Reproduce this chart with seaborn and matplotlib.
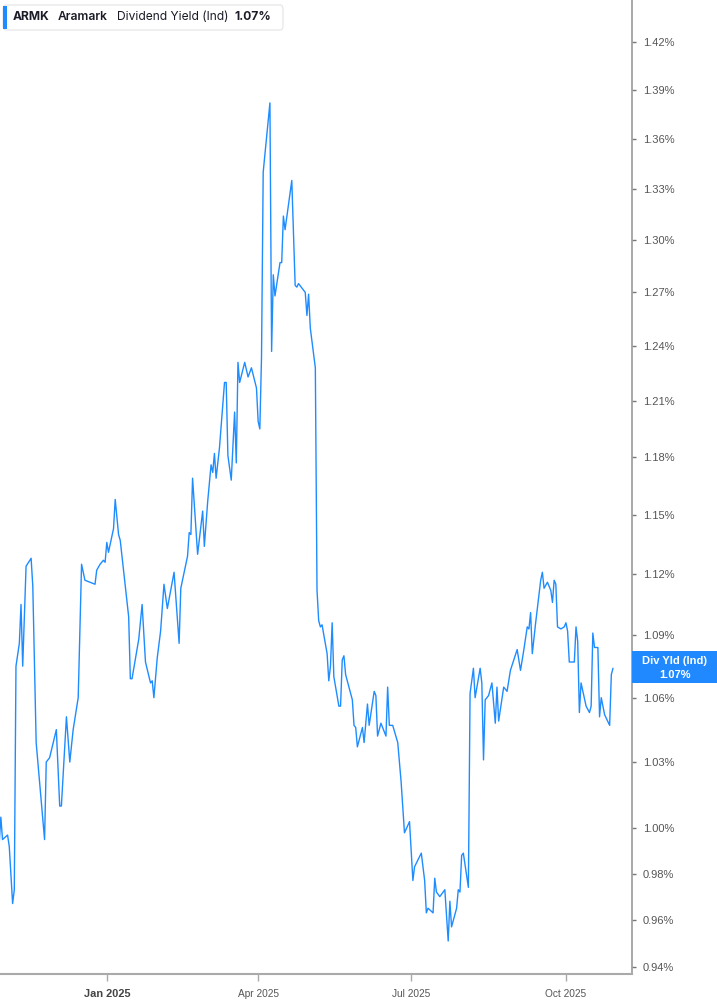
import matplotlib
matplotlib.use("Agg")
import matplotlib.pyplot as plt
import matplotlib.dates as mdates
from matplotlib.ticker import FixedLocator, NullLocator, FuncFormatter
from matplotlib.patches import FancyBboxPatch, Rectangle
import pandas as pd
import seaborn as sns

# ---------------- data ----------------
dates_2024 = ["2024-10-29", "2024-10-30", "2024-10-31", "2024-11-03", "2024-11-04",
              "2024-11-06", "2024-11-07", "2024-11-08", "2024-11-10", "2024-11-11",
              "2024-11-12", "2024-11-14", "2024-11-17", "2024-11-18", "2024-11-20",
              "2024-11-25", "2024-11-26", "2024-11-28", "2024-12-02", "2024-12-04",
              "2024-12-05", "2024-12-08", "2024-12-10", "2024-12-12", "2024-12-15",
              "2024-12-17", "2024-12-19", "2024-12-25", "2024-12-26", "2024-12-28",
              "2024-12-30", "2024-12-31"]
yield_2024 = [0.993, 1.005, 0.995, 0.997, 0.992,
              0.967, 0.973, 1.075, 1.086, 1.105,
              1.075, 1.124, 1.128, 1.114, 1.039,
              0.995, 1.030, 1.032, 1.045, 1.010,
              1.010, 1.051, 1.030, 1.045, 1.060,
              1.125, 1.117, 1.115, 1.122, 1.125,
              1.127, 1.126]

dates_2025 = [
    # Jan
    "2025-01-01", "2025-01-02", "2025-01-05", "2025-01-06", "2025-01-08", "2025-01-09",
    "2025-01-12", "2025-01-14", "2025-01-15", "2025-01-16", "2025-01-20", "2025-01-22",
    "2025-01-24", "2025-01-27", "2025-01-28", "2025-01-29", "2025-01-31",
    # Feb
    "2025-02-02", "2025-02-04", "2025-02-06", "2025-02-10", "2025-02-13", "2025-02-14",
    "2025-02-18", "2025-02-19", "2025-02-20", "2025-02-21", "2025-02-24", "2025-02-27",
    "2025-02-28",
    # Mar
    "2025-03-02", "2025-03-04", "2025-03-05", "2025-03-06", "2025-03-07", "2025-03-09",
    "2025-03-12", "2025-03-13", "2025-03-14", "2025-03-16", "2025-03-18", "2025-03-19",
    "2025-03-20", "2025-03-21", "2025-03-24", "2025-03-26", "2025-03-28", "2025-03-31",
    # Apr
    "2025-04-01", "2025-04-02", "2025-04-03", "2025-04-04", "2025-04-08", "2025-04-09",
    "2025-04-10", "2025-04-11", "2025-04-14", "2025-04-15", "2025-04-16", "2025-04-17",
    "2025-04-21", "2025-04-23", "2025-04-24", "2025-04-25", "2025-04-29", "2025-04-30",
    # May
    "2025-05-01", "2025-05-02", "2025-05-05", "2025-05-06", "2025-05-07", "2025-05-08",
    "2025-05-09", "2025-05-12", "2025-05-13", "2025-05-14", "2025-05-15", "2025-05-16",
    "2025-05-19", "2025-05-20", "2025-05-21", "2025-05-22", "2025-05-23", "2025-05-27",
    "2025-05-28", "2025-05-29", "2025-05-30",
    # Jun
    "2025-06-02", "2025-06-03", "2025-06-05", "2025-06-06", "2025-06-09", "2025-06-10",
    "2025-06-11", "2025-06-13", "2025-06-16", "2025-06-17", "2025-06-18", "2025-06-20",
    "2025-06-23", "2025-06-25", "2025-06-27", "2025-06-30",
    # Jul
    "2025-07-02", "2025-07-03", "2025-07-07", "2025-07-09", "2025-07-10", "2025-07-11",
    "2025-07-14", "2025-07-15", "2025-07-16", "2025-07-18", "2025-07-21", "2025-07-23",
    "2025-07-24", "2025-07-25", "2025-07-28", "2025-07-29", "2025-07-30", "2025-07-31",
    # Aug
    "2025-08-01", "2025-08-04", "2025-08-05", "2025-08-07", "2025-08-08", "2025-08-11",
    "2025-08-12", "2025-08-13", "2025-08-14", "2025-08-16", "2025-08-18", "2025-08-20",
    "2025-08-21", "2025-08-22", "2025-08-25", "2025-08-27", "2025-08-29",
    # Sep
    "2025-09-02", "2025-09-04", "2025-09-06", "2025-09-08", "2025-09-09", "2025-09-10",
    "2025-09-11", "2025-09-13", "2025-09-16", "2025-09-17", "2025-09-18", "2025-09-20",
    "2025-09-22", "2025-09-23", "2025-09-24", "2025-09-25", "2025-09-26", "2025-09-28",
    "2025-09-30",
    # Oct
    "2025-10-01", "2025-10-02", "2025-10-03", "2025-10-06", "2025-10-07", "2025-10-08",
    "2025-10-09", "2025-10-10", "2025-10-13", "2025-10-15", "2025-10-16", "2025-10-17",
    "2025-10-18", "2025-10-20", "2025-10-21", "2025-10-22", "2025-10-24", "2025-10-27",
    "2025-10-28", "2025-10-29",
]
yield_2025 = [
    # Jan
    1.136, 1.131, 1.143, 1.158, 1.140, 1.137,
    1.114, 1.099, 1.069, 1.069, 1.088, 1.105,
    1.077, 1.067, 1.068, 1.060, 1.079,
    # Feb
    1.092, 1.115, 1.103, 1.121, 1.086, 1.113,
    1.129, 1.141, 1.140, 1.169, 1.130, 1.152,
    1.134,
    # Mar
    1.157, 1.176, 1.172, 1.182, 1.169, 1.185,
    1.220, 1.220, 1.181, 1.168, 1.204, 1.177,
    1.231, 1.220, 1.231, 1.223, 1.228, 1.217,
    # Apr
    1.199, 1.195, 1.234, 1.340, 1.382, 1.237,
    1.280, 1.268, 1.287, 1.287, 1.314, 1.306,
    1.335, 1.274, 1.273, 1.275, 1.270, 1.257,
    # May
    1.269, 1.250, 1.228, 1.112, 1.097, 1.094,
    1.095, 1.081, 1.068, 1.075, 1.096, 1.070,
    1.056, 1.056, 1.078, 1.080, 1.071, 1.059,
    1.047, 1.046, 1.037,
    # Jun
    1.046, 1.039, 1.057, 1.047, 1.063, 1.061,
    1.042, 1.048, 1.042, 1.065, 1.047, 1.047,
    1.039, 1.021, 0.998, 1.003,
    # Jul
    0.977, 0.983, 0.989, 0.977, 0.963, 0.965,
    0.963, 0.978, 0.972, 0.970, 0.973, 0.951,
    0.968, 0.957, 0.965, 0.973, 0.972, 0.988,
    # Aug
    0.989, 0.974, 1.062, 1.074, 1.060, 1.074,
    1.067, 1.031, 1.059, 1.061, 1.067, 1.048,
    1.065, 1.049, 1.065, 1.063, 1.073,
    # Sep
    1.083, 1.073, 1.083, 1.094, 1.093, 1.101,
    1.081, 1.096, 1.117, 1.121, 1.113, 1.116,
    1.112, 1.106, 1.117, 1.115, 1.094, 1.093,
    1.094,
    # Oct
    1.096, 1.092, 1.077, 1.077, 1.094, 1.087,
    1.053, 1.067, 1.056, 1.053, 1.056, 1.091,
    1.084, 1.084, 1.051, 1.060, 1.052, 1.047,
    1.071, 1.074,
]

ytick_values = [0.94, 0.96, 0.98, 1.00, 1.03, 1.06, 1.09, 1.12, 1.15, 1.18,
                1.21, 1.24, 1.27, 1.30, 1.33, 1.36, 1.39, 1.42]
xtick_dates = ["2025-01-01", "2025-04-01", "2025-07-01", "2025-10-01"]
xtick_labels = ["Jan 2025", "Apr 2025", "Jul 2025", "Oct 2025"]

ticker_symbol = "ARMK"
company_name = "Aramark"
metric_name = "Dividend Yield (Ind)"
last_value_label = "1.07%"
badge_title = "Div Yld (Ind)"

assert len(dates_2024) == len(yield_2024)
assert len(dates_2025) == len(yield_2025)

df = pd.DataFrame({
    "date": pd.to_datetime(dates_2024 + dates_2025),
    "yield": yield_2024 + yield_2025,
})

# ---------------- style ----------------
sns.set_style("white")
plt.rcParams["font.family"] = ["Inter", "DejaVu Sans"]

LINE = "#1e8cff"
W, H = 717, 1005

fig = plt.figure(figsize=(W / 100, H / 100), dpi=100)
fig.patch.set_facecolor("white")
ax = fig.add_axes([0, 31 / H, 632 / W, 974 / H])
ax.set_facecolor("white")

sns.lineplot(data=df, x="date", y="yield", ax=ax, color=LINE, linewidth=1.0)

ax.set_yscale("log")
ax.set_ylim(0.9371, 1.4469)
ax.set_xlim(pd.Timestamp("2024-10-29 12:00"), pd.Timestamp("2025-11-09 07:00"))
ax.set_xlabel("")
ax.set_ylabel("")

# y axis on the right
ax.yaxis.tick_right()
ax.yaxis.set_major_locator(FixedLocator(ytick_values))
ax.yaxis.set_minor_locator(NullLocator())
ax.yaxis.set_major_formatter(FuncFormatter(lambda v, p: f"{v:.2f}%"))
ax.tick_params(axis="y", which="major", right=True, left=False, length=3, width=1,
               color="#777777", pad=5, labelsize=8, labelcolor="#555555")
for lbl in ax.get_yticklabels():
    lbl.set_family(["Liberation Sans", "DejaVu Sans"])

# x axis
ax.set_xticks(mdates.date2num(pd.to_datetime(xtick_dates)))
ax.set_xticklabels(xtick_labels)
ax.xaxis.set_minor_locator(NullLocator())
ax.tick_params(axis="x", which="major", bottom=True, length=5, width=1,
               color="#aaaaaa", pad=6, labelsize=7.3, labelcolor="#555555")
for lbl in ax.get_xticklabels():
    lbl.set_family(["Liberation Sans Narrow", "Liberation Sans", "DejaVu Sans"])
    if lbl.get_text() == "Jan 2025":
        lbl.set_fontweight("bold")
        lbl.set_fontsize(7.9)
        lbl.set_color("#444444")

for side in ["top", "left"]:
    ax.spines[side].set_visible(False)
ax.spines["right"].set_color("#999999")
ax.spines["right"].set_linewidth(1.2)
ax.spines["bottom"].set_color("#aaaaaa")
ax.spines["bottom"].set_linewidth(1.5)
ax.grid(False)


def fx(x):
    return x / W


def fy(y):
    return 1 - y / H


# legend / title box at top-left
box = FancyBboxPatch((fx(3), fy(30)), fx(280), 25 / H,
                     boxstyle="round,pad=0,rounding_size=0.004",
                     transform=fig.transFigure, facecolor="white",
                     edgecolor="#e4e4e4", linewidth=0.8, zorder=5)
fig.patches.append(box)
fig.patches.append(Rectangle((fx(3), fy(29)), fx(3.5), 23 / H,
                             transform=fig.transFigure, facecolor=LINE,
                             edgecolor="none", zorder=6))
ty = fy(17.5)
fig.text(fx(13), ty, ticker_symbol, va="center", ha="left", fontsize=8.7,
         fontweight="bold", color="#1c1c28", zorder=7)
fig.text(fx(58), ty, company_name, va="center", ha="left", fontsize=8.7,
         fontweight="semibold", color="#1c1c28", zorder=7)
fig.text(fx(117), ty, metric_name, va="center", ha="left", fontsize=8.7,
         color="#1c1c28", zorder=7)
fig.text(fx(234), ty, last_value_label, va="center", ha="left", fontsize=8.7,
         fontweight="bold", color="#1c1c28", zorder=7)

# last value badge on the right axis
fig.patches.append(Rectangle((fx(632), fy(683)), fx(85), 32 / H,
                             transform=fig.transFigure, facecolor="#2189ff",
                             edgecolor="none", zorder=6))
fig.text(fx(675), fy(661), badge_title, va="center", ha="center", fontsize=8,
         fontweight="bold", color="white", family=["Liberation Sans", "DejaVu Sans"],
         zorder=7)
fig.text(fx(675), fy(674.5), last_value_label, va="center", ha="center", fontsize=8,
         fontweight="bold", color="white", family=["Liberation Sans", "DejaVu Sans"],
         zorder=7)

fig.savefig("out.png", dpi=100, facecolor="white")
